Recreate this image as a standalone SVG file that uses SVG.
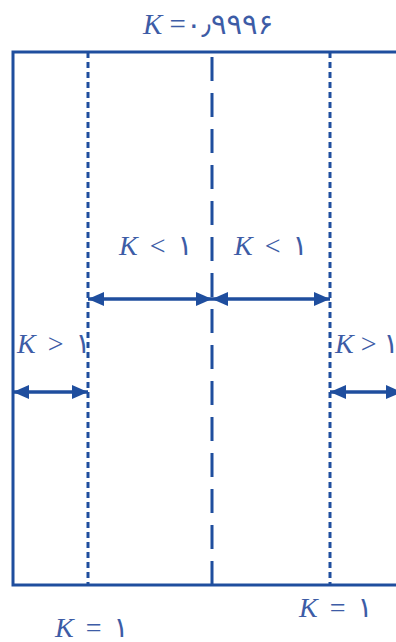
<svg xmlns="http://www.w3.org/2000/svg" width="396" height="642" viewBox="0 0 396 642">
<style>
.ln{stroke:#1f4e9e;fill:none}
.frame{stroke-width:3}
.dash{stroke-width:3;stroke-dasharray:6 4}
.center{stroke-width:3;stroke-dasharray:24 12}
.arr{stroke-width:3.5;marker-start:url(#ah);marker-end:url(#ah)}
.t{font-family:"Liberation Serif","DejaVu Sans",serif;font-size:28px;fill:#3d5ca6;word-spacing:5px}
.k{font-style:italic}
</style>
<defs>
<marker id="ah" viewBox="0 0 16 14" refX="16" refY="7" markerWidth="16" markerHeight="14" markerUnits="userSpaceOnUse" orient="auto-start-reverse">
<path d="M0 0 L16 7 L0 14 Z" fill="#1f4e9e"/>
</marker>
</defs>
<g id="frame">
<rect class="ln frame" x="13" y="52" width="400" height="533"/>
</g>
<g id="connectors">
<line class="ln dash" x1="88" y1="52" x2="88" y2="585"/>
<line class="ln dash" x1="330" y1="52" x2="330" y2="585"/>
<line class="ln center" x1="212" y1="585" x2="212" y2="52"/>
<line class="ln arr" x1="88" y1="299" x2="212" y2="299"/>
<line class="ln arr" x1="212" y1="299" x2="330" y2="299"/>
<line class="ln arr" x1="13" y1="392" x2="88" y2="392"/>
<line class="ln arr" x1="330" y1="392" x2="402" y2="392"/>
</g>
<g id="labels">
<text class="t" x="143" y="34" style="font-size:29px;word-spacing:0"><tspan class="k">K</tspan> =۰٫۹۹۹۶</text>
<text class="t" x="119" y="255"><tspan class="k">K</tspan> &lt; ۱</text>
<text class="t" x="234" y="255"><tspan class="k">K</tspan> &lt; ۱</text>
<text class="t" x="17" y="353"><tspan class="k">K</tspan> &gt; ۱</text>
<text class="t" x="335" y="353" style="word-spacing:0"><tspan class="k">K</tspan> &gt; ۱</text>
<text class="t" x="55" y="637"><tspan class="k">K</tspan> = ۱</text>
<text class="t" x="299" y="617"><tspan class="k">K</tspan> = ۱</text>
</g>
</svg>
